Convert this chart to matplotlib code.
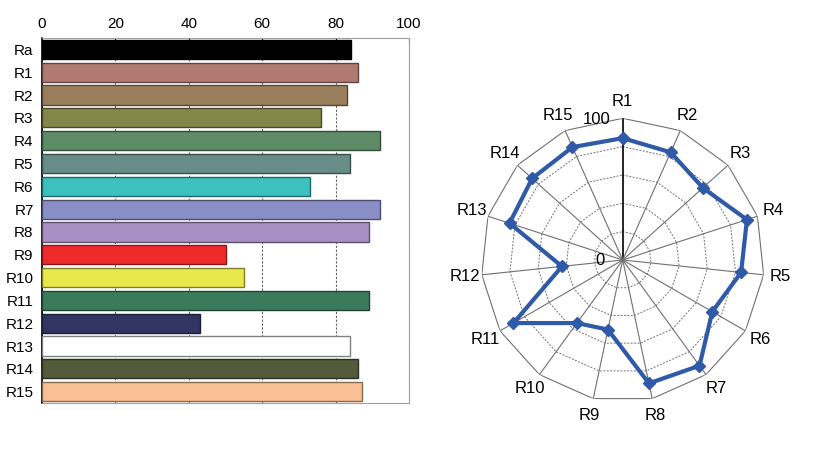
import numpy as np
import matplotlib
matplotlib.use('Agg')
import matplotlib.pyplot as plt

# bar chart data (Ra + R1..R15)
bar_labels = ['Ra', 'R1', 'R2', 'R3', 'R4', 'R5', 'R6', 'R7', 'R8',
              'R9', 'R10', 'R11', 'R12', 'R13', 'R14', 'R15']
bar_values = [84.2, 86.0, 83.2, 76.1, 92.2, 84.0, 73.0, 92.2, 89.0,
              50.2, 55.0, 89.0, 43.1, 84.0, 86.0, 87.2]
bar_colors = ['#000000', '#B07A72', '#9A7F5C', '#84864A', '#5E8C66', '#688C88',
              '#3CC0C0', '#8A8EC6', '#A890C4', '#EE2A2A', '#E8E84A', '#3C7A5C',
              '#323462', '#FFFFFF', '#525A3A', '#F8C094']
x_ticks = [0, 20, 40, 60, 80, 100]

# radar data (R1..R15)
radar_labels = bar_labels[1:]
radar_values = bar_values[1:]
radar_rings = [20, 40, 60, 80, 100]

plt.rcParams['font.family'] = ['Liberation Sans Narrow', 'Liberation Sans', 'DejaVu Sans']

fig = plt.figure(figsize=(8.2, 4.58), dpi=100)

# ---- bar chart ----
ax = fig.add_axes([0.0512, 0.120, 0.4476, 0.797])
y = np.arange(len(bar_labels))
edge = []
for c in bar_colors:
    rgb = np.array(matplotlib.colors.to_rgb(c))
    if c == '#FFFFFF':
        edge.append('#808080')
    else:
        edge.append(rgb * 0.55)
ax.barh(y, bar_values, height=0.84, color=bar_colors, edgecolor=edge,
        linewidth=1.0, zorder=3)
ax.set_xlim(0, 100)
ax.set_ylim(len(bar_labels) - 0.5, -0.5)
ax.set_yticks(y)
ax.set_yticklabels(bar_labels, fontsize=11)
ax.set_xticks(x_ticks)
ax.xaxis.tick_top()
ax.tick_params(axis='x', labelsize=11, length=3, direction='in', pad=5)
ax.tick_params(axis='y', length=0, pad=6)
ax.grid(True, axis='x', linestyle=(0, (2, 1.5)), color='#606060', linewidth=0.8, zorder=0)
ax.spines['left'].set_color('black')
ax.spines['left'].set_linewidth(1.2)
for s in ['top', 'right', 'bottom']:
    ax.spines[s].set_color('#A0A0A0')
    ax.spines[s].set_linewidth(0.8)

# ---- radar chart ----
rax = fig.add_axes([0.5866, 0.1229, 0.3456, 0.6188], projection='polar')
rax.set_theta_zero_location('N')
rax.set_theta_direction(-1)
n = len(radar_labels)
theta = np.linspace(0, 2 * np.pi, n, endpoint=False)
theta_c = np.append(theta, theta[0])
rax.set_ylim(0, 100)
rax.grid(False)
rax.spines['polar'].set_visible(False)
rax.set_xticks([])
rax.set_yticks([])
rax.patch.set_alpha(0)

for r in radar_rings:
    if r == 100:
        rax.plot(theta_c, [r] * (n + 1), color='#707070', linewidth=0.8, zorder=1)
    else:
        rax.plot(theta_c, [r] * (n + 1), color='#707070', linewidth=0.7,
                 linestyle=(0, (2, 1.5)), zorder=1)
for i, t in enumerate(theta):
    col = 'black' if i == 0 else '#707070'
    rax.plot([t, t], [0, 100], color=col, linewidth=0.8 if i else 1.2, zorder=1)

vals_c = np.append(radar_values, radar_values[0])
rax.plot(theta_c, vals_c, color='#2F5AA8', linewidth=3, marker='D',
         markersize=6, zorder=3, clip_on=False)

for t, lab in zip(theta, radar_labels):
    rax.text(t, 112, lab, ha='center', va='center', fontsize=12)

rax.annotate('100', xy=(0, 100), xytext=(-9, -6), textcoords='offset points',
             ha='right', va='bottom', fontsize=12)
rax.annotate('0', xy=(0, 0), xytext=(-13, 0), textcoords='offset points',
             ha='right', va='center', fontsize=12)

fig.savefig('out.png', dpi=100)
